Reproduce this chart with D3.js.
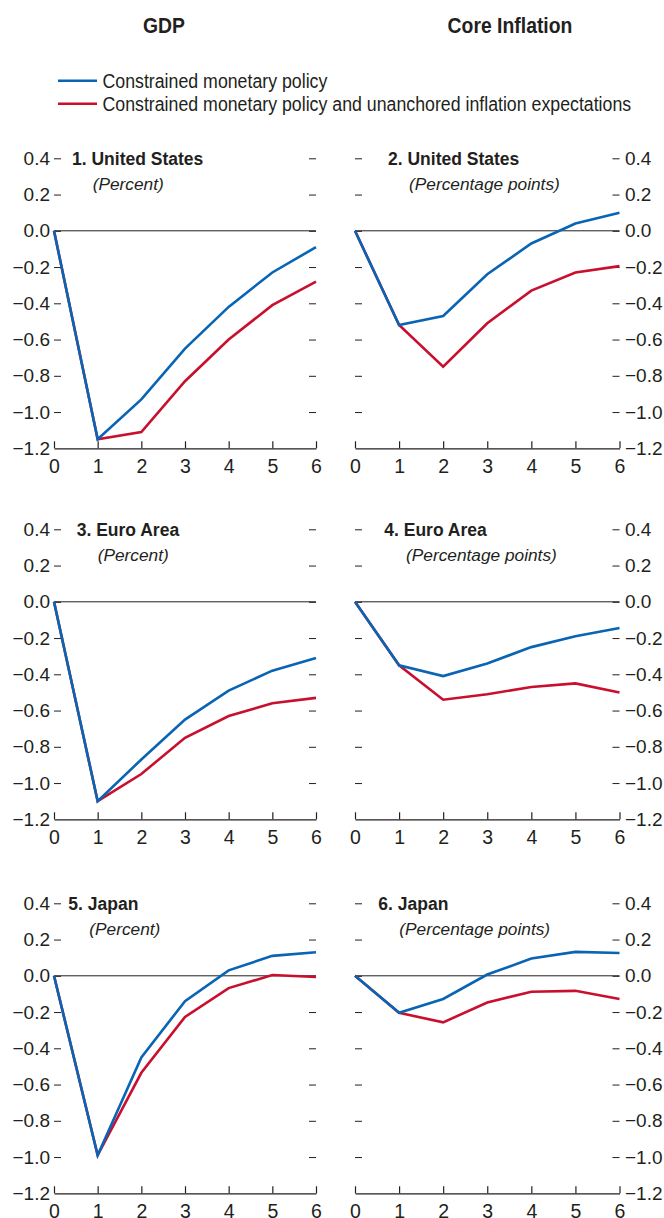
<!DOCTYPE html>
<html>
<head>
<meta charset="utf-8">
<script src="https://cdn.jsdelivr.net/npm/d3@7"></script>
<style>
  html, body { margin: 0; padding: 0; background: #fff; }
  svg { display: block; }
</style>
</head>
<body>
<svg id="chart" width="664" height="1218"></svg>
<script>
// ---------------- DATA ----------------
const horizons = [0, 1, 2, 3, 4, 5, 6];
const yTickValues = [0.4, 0.2, 0.0, -0.2, -0.4, -0.6, -0.8, -1.0, -1.2];
const columnHeaders = ["GDP", "Core Inflation"];
const seriesNames = [
  "Constrained monetary policy",
  "Constrained monetary policy and unanchored inflation expectations"
];
const panelTitles = ["1. United States", "2. United States", "3. Euro Area", "4. Euro Area", "5. Japan", "6. Japan"];
const panelUnits = ["(Percent)", "(Percentage points)", "(Percent)", "(Percentage points)", "(Percent)", "(Percentage points)"];

const usGdpConstrained   = [0, -1.15, -0.93, -0.65, -0.42, -0.23, -0.09];
const usGdpUnanchored    = [0, -1.15, -1.11, -0.83, -0.60, -0.41, -0.28];
const usInflConstrained  = [0, -0.52, -0.47, -0.24, -0.07, 0.04, 0.10];
const usInflUnanchored   = [0, -0.52, -0.75, -0.51, -0.33, -0.23, -0.195];
const eaGdpConstrained   = [0, -1.10, -0.87, -0.65, -0.49, -0.38, -0.31];
const eaGdpUnanchored    = [0, -1.10, -0.95, -0.75, -0.63, -0.56, -0.53];
const eaInflConstrained  = [0, -0.35, -0.41, -0.34, -0.25, -0.19, -0.145];
const eaInflUnanchored   = [0, -0.35, -0.54, -0.51, -0.47, -0.45, -0.50];
const jpGdpConstrained   = [0, -0.99, -0.45, -0.14, 0.03, 0.11, 0.13];
const jpGdpUnanchored    = [0, -0.99, -0.535, -0.227, -0.068, 0.004, -0.007];
const jpInflConstrained  = [0, -0.204, -0.128, 0.007, 0.095, 0.132, 0.126];
const jpInflUnanchored   = [0, -0.204, -0.257, -0.147, -0.088, -0.083, -0.128];

// ---------------- LAYOUT / STYLE ----------------
const colors = ["#0a64b4", "#c8102e"];
const FONT = "'Liberation Sans', Arial, sans-serif";
const INK = "#231f20";
const colX = [[54, 316], [355, 619.5]];
const rowTop = [158.3, 529.3, 903.3];
const plotH = 290;
const titleX = [72, 388, 76.7, 384.3, 68.3, 378.3];
const unitX = [92.7, 409, 97.7, 406, 89.3, 399.3];

const panels = [
  { s: [usGdpConstrained, usGdpUnanchored], col: 0, row: 0 },
  { s: [usInflConstrained, usInflUnanchored], col: 1, row: 0 },
  { s: [eaGdpConstrained, eaGdpUnanchored], col: 0, row: 1 },
  { s: [eaInflConstrained, eaInflUnanchored], col: 1, row: 1 },
  { s: [jpGdpConstrained, jpGdpUnanchored], col: 0, row: 2 },
  { s: [jpInflConstrained, jpInflUnanchored], col: 1, row: 2 }
];

const svg = d3.select("#chart");
svg.append("rect").attr("width", 664).attr("height", 1218).attr("fill", "#fff");

// Column headers (condensed look via horizontal scale)
const headerX = [164, 510];
columnHeaders.forEach((h, i) => {
  svg.append("text")
    .attr("transform", `translate(${headerX[i]},32.5) scale(0.88,1)`)
    .attr("text-anchor", "middle")
    .attr("font-family", FONT).attr("font-weight", "bold").attr("font-size", 22)
    .attr("fill", INK)
    .text(h);
});

// Legend
const legY = [80.7, 103.7];
seriesNames.forEach((n, i) => {
  svg.append("line")
    .attr("x1", 58).attr("x2", 97).attr("y1", legY[i]).attr("y2", legY[i])
    .attr("stroke", colors[i]).attr("stroke-width", 2.5);
  svg.append("text")
    .attr("transform", `translate(102.5,${legY[i]}) scale(0.845,1)`)
    .attr("dy", "0.36em")
    .attr("font-family", FONT).attr("font-size", 21)
    .attr("fill", INK)
    .text(n);
});

const fmt = d3.format(".1f");

panels.forEach((p, idx) => {
  const [x0, x1] = colX[p.col];
  const top = rowTop[p.row];
  const x = d3.scaleLinear().domain([0, 6]).range([x0, x1]);
  const y = d3.scaleLinear().domain([-1.2, 0.4]).range([top + plotH, top]);
  const g = svg.append("g");

  // Y axis inner dashes (both sides)
  const dashVals = yTickValues.filter(v => v > -1.15);
  const leftAxis = d3.axisRight(y).tickValues(dashVals).tickSize(7).tickFormat("");
  const rightAxis = d3.axisLeft(y).tickValues(dashVals).tickSize(7).tickFormat("");
  const la = g.append("g").attr("transform", `translate(${x0},0)`).call(leftAxis);
  const ra = g.append("g").attr("transform", `translate(${x1},0)`).call(rightAxis);
  [la, ra].forEach(a => {
    a.select(".domain").remove();
    a.selectAll(".tick line").attr("stroke", INK).attr("stroke-width", 1);
  });

  // Y tick labels
  const labelAxis = p.col === 0
    ? d3.axisLeft(y).tickValues(yTickValues).tickSize(0).tickPadding(4).tickFormat(fmt)
    : d3.axisRight(y).tickValues(yTickValues).tickSize(0).tickPadding(5.5).tickFormat(fmt);
  const lab = g.append("g").attr("transform", `translate(${p.col === 0 ? x0 : x1},0)`).call(labelAxis);
  lab.select(".domain").remove();
  lab.selectAll("text").attr("font-family", FONT).attr("font-size", 19).attr("fill", INK);

  // X axis at bottom, ticks pointing up
  const xAxis = d3.axisTop(x).tickValues(horizons).tickSize(7).tickSizeOuter(0).tickFormat("");
  const xa = g.append("g").attr("transform", `translate(0,${y(-1.2)})`).call(xAxis);
  xa.select(".domain").attr("stroke", INK).attr("stroke-width", 1.2);
  xa.selectAll(".tick line").attr("stroke", INK).attr("stroke-width", 1.2);
  const xl = d3.axisBottom(x).tickValues(horizons).tickSize(0).tickPadding(10.5).tickFormat(d3.format("d"));
  const xlg = g.append("g").attr("transform", `translate(0,${y(-1.2)})`).call(xl);
  xlg.select(".domain").remove();
  xlg.selectAll("text").attr("font-family", FONT).attr("font-size", 19.5).attr("fill", INK);

  // Zero line
  g.append("line")
    .attr("x1", x0).attr("x2", x1).attr("y1", y(0)).attr("y2", y(0))
    .attr("stroke", INK).attr("stroke-width", 1);

  // Series (unanchored first, constrained on top)
  const line = d3.line().x((d, i) => x(horizons[i])).y(d => y(d));
  [1, 0].forEach(si => {
    g.append("path")
      .datum(p.s[si])
      .attr("d", line)
      .attr("fill", "none")
      .attr("stroke", colors[si])
      .attr("stroke-width", 2.6)
      .attr("stroke-linejoin", "miter");
  });

  // Titles
  g.append("text")
    .attr("x", titleX[idx]).attr("y", top + 6.5)
    .attr("font-family", FONT).attr("font-weight", "bold").attr("font-size", 17.5)
    .attr("fill", INK)
    .text(panelTitles[idx]);
  g.append("text")
    .attr("x", unitX[idx]).attr("y", top + 32)
    .attr("font-family", FONT).attr("font-style", "italic").attr("font-size", 17.3)
    .attr("fill", INK)
    .text(panelUnits[idx]);
});
</script>
</body>
</html>
